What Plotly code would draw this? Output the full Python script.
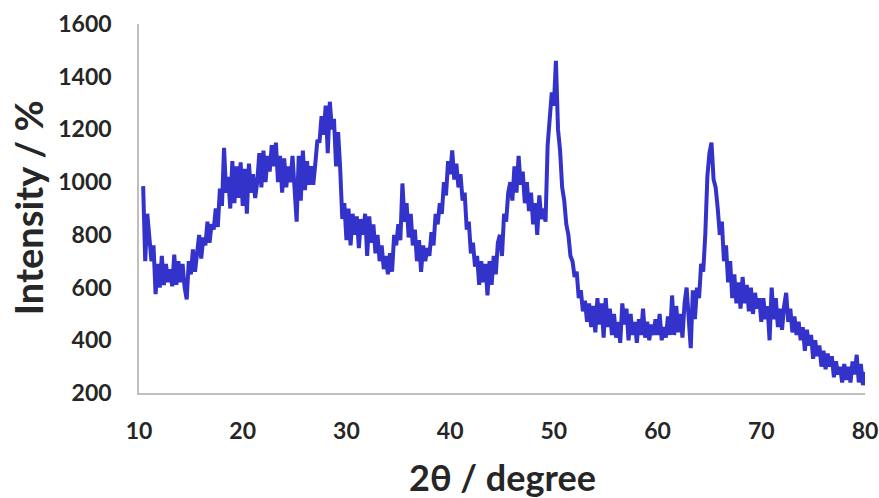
import plotly.graph_objects as go

# Intensity readings, 0.2 degree steps starting at 10.4 degrees (2-theta)
start_deg = 10.4
step_deg = 0.2
intensity = [
    985, 700, 880,                    # 10.4 - 10.8
    800, 700, 760, 575, 690,          # 11
    600, 720, 610, 690, 620,          # 12
    670, 605, 725, 610, 700,          # 13
    620, 690, 600, 555, 700,          # 14
    650, 745, 660, 720, 800,          # 15
    710, 790, 760, 850, 770,          # 16
    840, 820, 900, 830, 975,          # 17
    910, 1130, 960, 1020, 900,        # 18
    1080, 920, 1060, 940, 1075,       # 19
    910, 1050, 880, 1070, 960,        # 20
    1030, 940, 1000, 1110, 980,       # 21
    1120, 1000, 1100, 1040, 1140,     # 22
    1060, 1150, 1000, 1100, 960,      # 23
    1090, 980, 1060, 1000, 1100,      # 24
    970, 850, 1100, 930, 1120,        # 25
    970, 1080, 990, 1060, 990,        # 26
    1070, 1160, 1150, 1250, 1180,     # 27
    1290, 1110, 1305, 1200, 1240,     # 28
    1060, 1190, 1050, 860, 920,       # 29
    780, 900, 760, 880, 800,          # 30
    870, 750, 860, 800, 880,          # 31
    720, 870, 770, 840, 730,          # 32
    800, 700, 760, 670, 720,          # 33
    650, 730, 660, 800, 760,          # 34
    840, 780, 995, 850, 920,          # 35
    790, 880, 760, 820, 700,          # 36
    780, 660, 760, 700, 750,          # 37
    720, 810, 760, 880, 840,          # 38
    920, 880, 1000, 950, 1080,        # 39
    1030, 1120, 1010, 1070, 980,      # 40
    1030, 930, 960, 820, 850,         # 41
    730, 770, 680, 720, 610,          # 42
    700, 620, 690, 570, 700,          # 43
    610, 720, 650, 770, 800,          # 44
    720, 880, 850, 960, 1000,         # 45
    930, 1060, 960, 1100, 990,        # 46
    1040, 920, 1000, 890, 960,        # 47
    840, 920, 800, 950, 860,          # 48
    900, 850, 1140, 1230, 1340,       # 49
    1290, 1460, 1200, 1120, 980,      # 50
    930, 840, 800, 720, 700,          # 51
    640, 660, 560, 590, 510,          # 52
    550, 470, 540, 450, 530,          # 53
    430, 560, 460, 540, 410,          # 54
    560, 450, 520, 420, 500,          # 55
    410, 470, 390, 540, 460,          # 56
    520, 400, 500, 420, 470,          # 57
    390, 480, 420, 520, 410,          # 58
    470, 400, 460, 420, 480,          # 59
    420, 500, 400, 450, 410,          # 60
    490, 420, 570, 420, 530,          # 61
    430, 500, 410, 540, 600,          # 62
    450, 370, 590, 480, 600,          # 63
    560, 690, 660, 800, 1020,         # 64
    1110, 1150, 1010, 980, 900,       # 65
    800, 850, 700, 760, 620,          # 66
    700, 560, 650, 540, 620,          # 67
    520, 640, 540, 610, 510,          # 68
    600, 500, 580, 520, 560,          # 69
    470, 560, 480, 530, 400,          # 70
    600, 480, 560, 450, 520,          # 71
    440, 530, 580, 470, 520,          # 72
    430, 490, 420, 470, 400,          # 73
    450, 360, 440, 380, 420,          # 74
    330, 400, 340, 380, 300,          # 75
    360, 290, 350, 300, 340,          # 76
    260, 320, 270, 300, 240,          # 77
    310, 250, 300, 240, 320,          # 78
    270, 345, 240, 310, 230,          # 79
    280,                              # 80
]
two_theta = [round(start_deg + i * step_deg, 2) for i in range(len(intensity))]

x_ticks = [10, 20, 30, 40, 50, 60, 70, 80]
y_ticks = [200, 400, 600, 800, 1000, 1200, 1400, 1600]

FONT = "Lato, Roboto, sans-serif"
TXT = "#262626"

fig = go.Figure()
fig.add_trace(go.Scatter(
    x=two_theta, y=intensity, mode="lines",
    line=dict(color="#3333cc", width=4),
    showlegend=False,
))

fig.update_layout(
    width=879, height=498, autosize=False,
    margin=dict(l=139, r=14, t=24, b=105),
    paper_bgcolor="white", plot_bgcolor="white",
    font=dict(family=FONT, color=TXT),
    xaxis=dict(
        range=[10, 80], tickvals=x_ticks, showgrid=False, zeroline=False,
        showline=True, linecolor="#bfbfbf", linewidth=1.5,
        ticks="", ticklabelstandoff=17, automargin=False,
        tickfont=dict(family=FONT, size=23, color=TXT, weight="bold"),
    ),
    yaxis=dict(
        range=[200, 1600], tickvals=y_ticks, showgrid=False, zeroline=False,
        showline=True, linecolor="#bfbfbf", linewidth=1.5,
        ticks="", ticklabelstandoff=21, automargin=False,
        tickfont=dict(family=FONT, size=23, color=TXT, weight="bold"),
    ),
    annotations=[
        dict(text="2θ / degree", xref="paper", yref="paper", x=0.501, y=0,
             xanchor="center", yanchor="middle", yshift=-84, showarrow=False,
             borderpad=0,
             font=dict(family=FONT, size=36, color=TXT, weight="bold")),
        dict(text="Intensity / %", xref="paper", yref="paper", x=0, y=0.501,
             xanchor="center", yanchor="middle", xshift=-111, textangle=-90,
             showarrow=False,
             font=dict(family=FONT, size=38, color=TXT, weight="bold")),
    ],
)

fig.write_html(
    "out.html",
    config={"displayModeBar": False, "responsive": False},
    post_script="document.body.style.margin='0';document.body.style.overflow='hidden';",
)
